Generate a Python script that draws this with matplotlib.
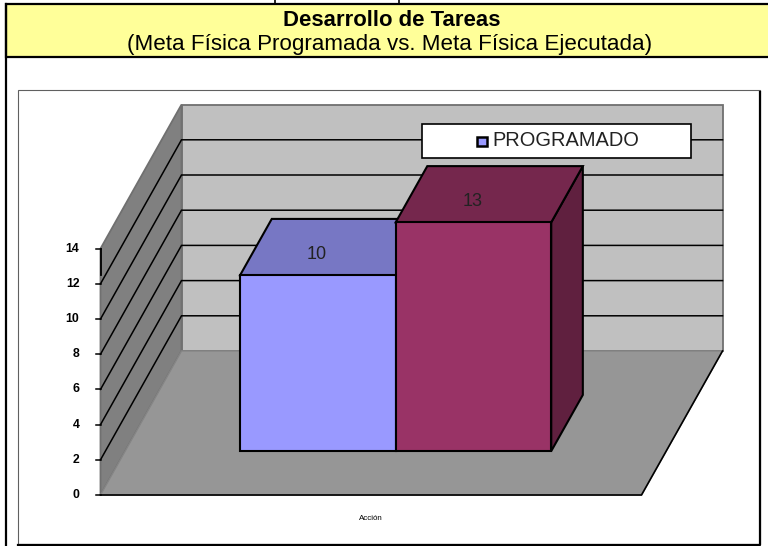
# Desarrollo de Tareas - old style Excel 3D column chart pasted in a table
import matplotlib
matplotlib.use('Agg')
import matplotlib.pyplot as plt
from matplotlib.patches import Polygon, Rectangle

plt.rcParams['font.family'] = ['Liberation Sans', 'DejaVu Sans']

# Data
title = "Desarrollo de Tareas"
subtitle = "(Meta Física Programada vs. Meta Física Ejecutada)"
series = ["PROGRAMADO", "EJECUTADO"]
values = [10, 13]
value_labels = ["10", "13"]
y_ticks = [0, 2, 4, 6, 8, 10, 12, 14]
category = "Acción"

# Fake 3D geometry, in pixels of the figure
x0, y0 = 100.5, 495.0
floor_w = 541.0
unit = 17.6
depth_x, depth_y = 81.0, 144.0
bar_w = 0.2875
gap = 0.2125
bar_d0, bar_d1 = 0.305, 0.695
front_cols = ['#9999FF', '#993366']
top_cols = ['#7777C4', '#75274D']
side_cols = ['#5C5C99', '#60203F']


def proj(x, val, d):
    # x: 0-1 along the floor, val: chart value, d: 0-1 depth
    return (x0 + x * floor_w + d * depth_x, y0 - val * unit - d * depth_y)


def face(pts, col, edge='black', lw=1.5, z=2):
    ax.add_patch(Polygon(pts, closed=True, facecolor=col, edgecolor=edge,
                         linewidth=lw, zorder=z, joinstyle='miter'))


fig = plt.figure(figsize=(7.68, 5.46), dpi=100)
ax = fig.add_axes([0, 0, 1, 1])
ax.set_xlim(0, 768)
ax.set_ylim(546, 0)
ax.axis('off')

# Table around the chart
ax.add_patch(Rectangle((6, 4), 770, 52.5, facecolor='#FFFF99', edgecolor='black',
                       linewidth=1.6, zorder=1))
ax.plot([6, 6], [4, 546], color='black', lw=1.6, zorder=1)
ax.plot([275, 275], [0, 4], color='black', lw=1.2, zorder=1)
ax.plot([399, 399], [0, 4], color='black', lw=1.2, zorder=1)
ax.text(392, 26, title, ha='center', va='baseline', fontsize=15.9, fontweight='bold')
ax.text(390, 50, subtitle, ha='center', va='baseline', fontsize=16.1)

# Chart frame
ax.add_patch(Rectangle((17.5, 90), 742, 454, facecolor='white', edgecolor='#606060',
                       linewidth=0.8, zorder=1))
ax.plot([760, 760, 18], [92, 544.5, 544.5], color='black', lw=1.6, zorder=1)

top = y_ticks[-1]
# Walls and floor
face([proj(0, 0, 1), proj(1, 0, 1), proj(1, top, 1), proj(0, top, 1)], '#C0C0C0', edge='#707070', lw=1.3)
face([proj(0, 0, 0), proj(0, 0, 1), proj(0, top, 1), proj(0, top, 0)], '#808080', edge='#707070', lw=1.3)
face([proj(0, 0, 0), proj(1, 0, 0), proj(1, 0, 1), proj(0, 0, 1)], '#969696', edge='#858585', lw=1)

# Gridlines on both walls, the top one stays the grey wall edge
for t in y_ticks[1:-1]:
    a, b, c = proj(0, t, 0), proj(0, t, 1), proj(1, t, 1)
    ax.plot([a[0], b[0], c[0]], [a[1], b[1], c[1]], color='black', lw=1.1, zorder=2,
            solid_joinstyle='miter')

# Floor front edges
a, b, c = proj(0, 0, 0), proj(1, 0, 0), proj(1, 0, 1)
ax.plot([a[0], b[0], c[0]], [a[1], b[1], c[1]], color='black', lw=1.2, zorder=2)

# Axis line, ticks and tick labels
a, b = proj(0, 12.5, 0), proj(0, top, 0)
ax.plot([a[0], b[0]], [a[1], b[1]], color='black', lw=1.3, zorder=3)
for t in y_ticks:
    p = proj(0, t, 0)
    ax.plot([p[0] - 5, p[0]], [p[1], p[1]], color='black', lw=1.1, zorder=3)
    ax.text(79.5, p[1], str(t), ha='right', va='center', fontsize=8.8,
            fontweight='bold', zorder=3)

# Bars, back one first so the front faces overlap correctly
for i, v in enumerate(values):
    xl = gap + i * bar_w
    xr = xl + bar_w
    z = 4 + i
    face([proj(xr, 0, bar_d0), proj(xr, 0, bar_d1), proj(xr, v, bar_d1), proj(xr, v, bar_d0)],
         side_cols[i], z=z)
    face([proj(xl, v, bar_d0), proj(xr, v, bar_d0), proj(xr, v, bar_d1), proj(xl, v, bar_d1)],
         top_cols[i], z=z)
    face([proj(xl, 0, bar_d0), proj(xr, 0, bar_d0), proj(xr, v, bar_d0), proj(xl, v, bar_d0)],
         front_cols[i], z=z)
    px, py = proj((xl + xr) / 2, v, bar_d0)
    ax.text(px - 1, py - 20.5, value_labels[i], ha='center', va='center', fontsize=13,
            color='#222222', zorder=8)

# Legend box, only the first series shows in the original
ax.add_patch(Rectangle((422, 124), 269, 34, facecolor='white', edgecolor='black',
                       linewidth=1.2, zorder=9))
ax.add_patch(Rectangle((477, 136.5), 9.5, 9.5, facecolor=front_cols[0], edgecolor='black',
                       linewidth=1.8, zorder=10))
ax.text(492, 141, series[0], ha='left', va='center', fontsize=14.4, color='#222222',
        zorder=10)

ax.text(370.5, 519, category, ha='center', va='center', fontsize=5.7, color='black')

fig.savefig('out.png', dpi=100)
